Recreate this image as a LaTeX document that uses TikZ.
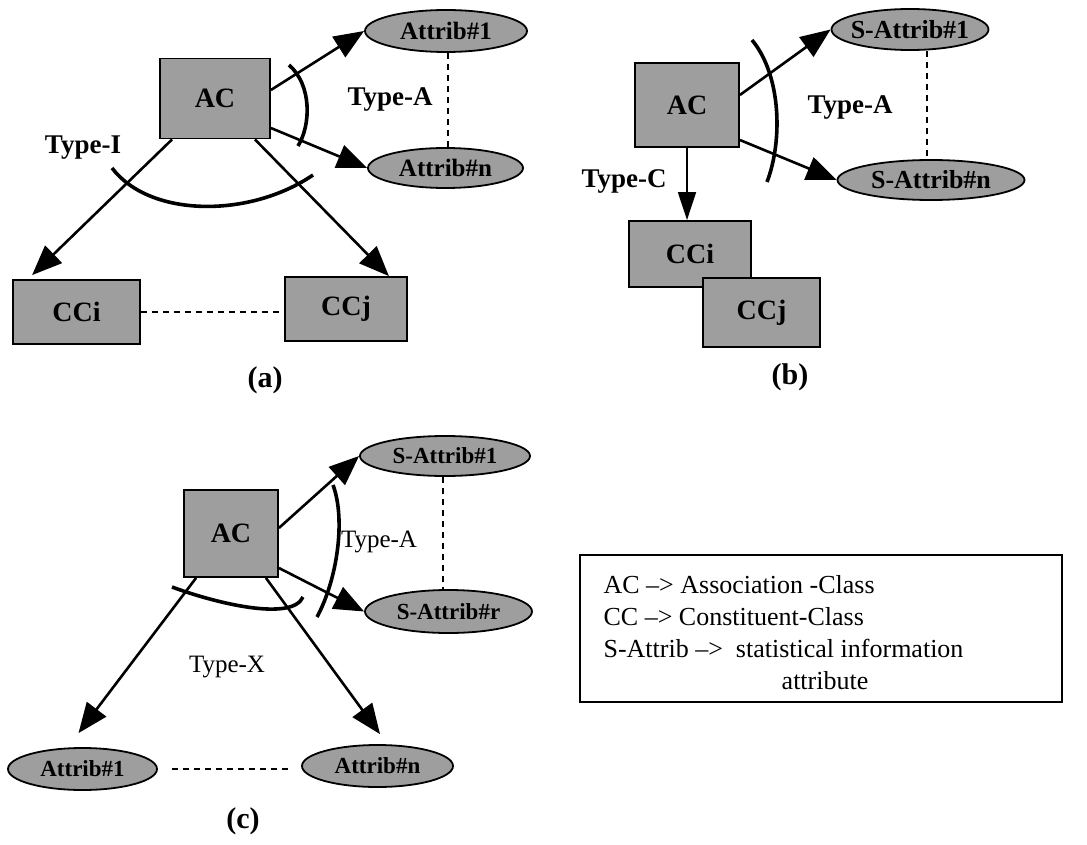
\documentclass[tikz,border=0pt]{standalone}
\usepackage{fontspec}
\setmainfont{Liberation Serif}
\usetikzlibrary{arrows.meta,shapes.geometric}
\definecolor{shade}{gray}{0.62}
\begin{document}
\begin{tikzpicture}[x=1pt,y=-1pt,
  cls/.style={draw=black, line width=1.8pt, fill=shade, inner sep=0pt,
    font=\fontsize{28}{30}\selectfont\bfseries},
  attr/.style={ellipse, draw=black, line width=1.8pt, fill=shade,
    inner xsep=-12pt, inner ysep=-4pt,
    font=\fontsize{25}{27}\selectfont\bfseries},
  attrb/.style={attr, font=\fontsize{26}{28}\selectfont\bfseries},
  attrc/.style={attr, font=\fontsize{23}{25}\selectfont\bfseries},
  arr/.style={line width=2.6pt, -{Triangle[length=30pt,width=24pt]}},
  thinarr/.style={line width=1.6pt, -{Triangle[length=28pt,width=18pt]}},
  arc/.style={line width=3.6pt},
  link/.style={line width=2pt, dash pattern=on 6pt off 5pt},
  typelbl/.style={font=\fontsize{27}{29}\selectfont\bfseries},
  typelblc/.style={font=\fontsize{25}{27}\selectfont},
  panel/.style={font=\fontsize{30}{32}\selectfont\bfseries},
  legendtxt/.style={font=\fontsize{26}{32}\selectfont, align=left, inner sep=0pt}]
\useasboundingbox (0,0) rectangle (1087,845);

% ---------- (a) ----------
\node[cls, minimum width=110pt, minimum height=80pt] (acA) at (215,98.5) {AC};
\node[cls, minimum width=127pt, minimum height=64pt] (cciA) at (76.5,312) {CCi};
\node[cls, minimum width=122pt, minimum height=64pt] (ccjA) at (346,309) {CCj};
\node[attr, minimum width=162pt, minimum height=42pt] (at1A) at (446,31) {Attrib\#1};
\node[attr, minimum width=155pt, minimum height=40pt] (atnA) at (445.5,168) {Attrib\#n};

\draw[arr] ([yshift=8.5pt]acA.east) -- (at1A.west);
\draw[arr] ([yshift=-29.5pt]acA.east) -- (atnA.west);
\draw[arr] ([xshift=13pt]acA.south west) -- ([xshift=20pt,yshift=4pt]cciA.north west);
\draw[arr] ([xshift=-16pt]acA.south east) -- ([xshift=-19pt]ccjA.north east);
\draw[link] (cciA.east) -- (cciA.east -| ccjA.west);
\draw[link] ([xshift=2pt]at1A.south) -- ([xshift=2pt]at1A.south |- atnA.north);

\draw[arc] (289,65) .. controls (312,85) and (311,125) .. (298,146);
\draw[arc] (112,168) .. controls (150,218) and (250,218) .. (313,175);

\node[typelbl] (tIA) at (83,148) {Type-I};
\node[typelbl] (tAA) at (390,100) {Type-A};
\node[panel] (capA) at (265,380) {(a)};

% ---------- (b) ----------
\node[cls, minimum width=104pt, minimum height=84pt] (acB) at (687,105) {AC};
\node[cls, minimum width=122pt, minimum height=66pt] (cciB) at (690,254) {CCi};
\node[cls, minimum width=117pt, minimum height=69pt] (ccjB) at (761.5,312.5) {CCj};
\node[attrb, minimum width=157pt, minimum height=41pt] (sa1B) at (910,29.5) {S-Attrib\#1};
\node[attrb, minimum width=187pt, minimum height=40pt] (sanB) at (931,180) {S-Attrib\#n};

\draw[arr] ([yshift=10pt]acB.east) -- (sa1B.west);
\draw[arr] ([yshift=-35pt]acB.east) -- (sanB.west);
\draw[thinarr] (acB.south) -- (acB.south |- cciB.north);
\draw[link] ([xshift=17pt]sa1B.south) -- ([xshift=17pt]sa1B.south |- sanB.north);
\draw[arc] (752,40) .. controls (781,75) and (783,140) .. (767,182);

\node[typelbl] (tCB) at (624,181) {Type-C};
\node[typelbl] (tAB) at (850,108) {Type-A};
\node[panel] (capB) at (790,377) {(b)};

% ---------- (c) ----------
\node[cls, minimum width=94pt, minimum height=87pt] (acC) at (231,533.5) {AC};
\node[attrc, minimum width=170pt, minimum height=40pt] (sa1C) at (445,456) {S-Attrib\#1};
\node[attrc, minimum width=167pt, minimum height=43pt] (sanC) at (448.5,611.5) {S-Attrib\#r};
\node[attrc, minimum width=149pt, minimum height=42pt] (atc1) at (82.5,769) {Attrib\#1};
\node[attrc, minimum width=151pt, minimum height=42pt] (atcn) at (377.5,766) {Attrib\#n};

\draw[arr] ([yshift=5.5pt]acC.east) -- (sa1C.west);
\draw[arr] ([yshift=-34.5pt]acC.east) -- (sanC.west);
\draw[arr] ([xshift=13pt]acC.south west) -- ([xshift=-4pt,yshift=14pt]atc1.north);
\draw[arr] ([xshift=-13pt]acC.south east) -- ([xshift=2.5pt,yshift=10pt]atcn.north);
\draw[link, shorten <=14pt, shorten >=12pt] (atc1.east) -- (atc1.east -| atcn.west);
\draw[link] ([xshift=-2pt]sa1C.south) -- ([xshift=-2pt]sa1C.south |- sanC.north);

\draw[arc] (333,485) .. controls (346,520) and (337,580) .. (317,617);
\draw[arc] (172,587) .. controls (215,603) and (292,622) .. (303,597);

\node[typelblc] (tAC) at (379,542) {Type-A};
\node[typelblc] (tXC) at (227,667) {Type-X};
\node[panel] (capC) at (243,821) {(c)};

% ---------- key ----------
\node[draw=black, line width=1.2pt, minimum width=482pt, minimum height=147pt,
  inner sep=0pt] (key) at (821,628.5) {};
\node[legendtxt, anchor=west] (keytxt) at ([xshift=24pt,yshift=-4pt]key.west)
  {AC --> Association -Class\\
   CC --> Constituent-Class\\
   S-Attrib -->\ \ statistical information\\
   \hspace*{6.85em}attribute};
\end{tikzpicture}
\end{document}
